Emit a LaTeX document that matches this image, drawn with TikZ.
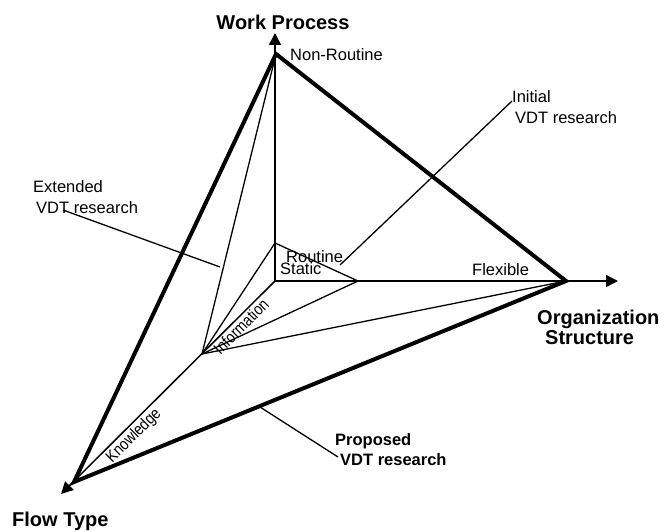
\documentclass[tikz,border=0pt]{standalone}
\usepackage{fontspec}
\setmainfont{Liberation Sans}
\usetikzlibrary{arrows.meta}
\begin{document}
\begin{tikzpicture}[x=1pt,y=-1pt,
  thinline/.style={line width=1.3pt},
  thickline/.style={line width=4pt, line join=miter},
  axisline/.style={line width=1.5pt, -{Triangle[length=12pt,width=12pt]}},
  lbl/.style={font=\fontsize{16.5}{19}\selectfont, inner sep=0pt},
  blbl/.style={font=\fontsize{20}{23}\selectfont\bfseries, inner sep=0pt},
  plbl/.style={font=\fontsize{16.5}{19}\selectfont\bfseries, inner sep=0pt},
  rlbl/.style={font=\fontsize{16.5}{19}\selectfont, inner sep=0pt, rotate=45, xscale=0.85},
]
\useasboundingbox (0,0) rectangle (667,532);
% key points
\coordinate (O) at (275,281);
\coordinate (NR) at (276,54);
\coordinate (R) at (275,243);
\coordinate (S) at (358,281);
\coordinate (F) at (566,281);
\coordinate (I) at (202,354);
\coordinate (K) at (74,482);
\coordinate (WPtip) at (275,33);
\coordinate (OStip) at (618,281);
\coordinate (FTtip) at (61,494);
% axes
\draw[axisline] (O) -- (WPtip);
\draw[axisline] (O) -- (OStip);
\draw[axisline] (O) -- (FTtip);
% inner lines
\draw[thinline] (R) -- (S);
\draw[thinline] (I) -- (NR);
\draw[thinline] (I) -- (R);
\draw[thinline] (I) -- (S);
\draw[thinline] (I) -- (F);
% outer triangle
\draw[thickline] (NR) -- (F) -- (K) -- cycle;
% labels
\node[blbl, anchor=base] (wp) at (283,29.5) {Work Process};
\node[blbl, anchor=base west] (org) at (537,324.5) {Organization};
\node[blbl, anchor=base west] (str) at (545,344) {Structure};
\node[blbl, anchor=base west] (ft) at (12,526.7) {Flow Type};
\node[lbl, anchor=base west] (nr) at (290,61) {Non-Routine};
\node[lbl, anchor=base west] (rt) at (286,262.7) {Routine};
\node[lbl, anchor=base west] (st) at (280,274.3) {Static};
\node[lbl, anchor=base west] (fx) at (472,275) {Flexible};
\node[lbl, anchor=base west] (ini1) at (512,103) {Initial};
\node[lbl, anchor=base west] (ini2) at (515,124) {VDT research};
\node[lbl, anchor=base west] (ext1) at (33,193) {Extended};
\node[lbl, anchor=base west] (ext2) at (36,213) {VDT research};
\node[plbl, anchor=base west] (pro1) at (335,445) {Proposed};
\node[plbl, anchor=base west] (pro2) at (340,465) {VDT research};
\node[rlbl] (info) at (241,326.5) {Information};
\node[rlbl] (know) at (134,436) {Knowledge};
% leaders
\coordinate (iniA) at (340,265);
\coordinate (iniB) at (512,101);
\draw[thinline] (iniA) -- (iniB);
\coordinate (extA) at (63,210);
\coordinate (extB) at (220,267);
\draw[thinline] (extA) -- (extB);
\coordinate (proA) at (260,407);
\coordinate (proB) at (338,457);
\draw[thinline] (proA) -- (proB);
\end{tikzpicture}
\end{document}
